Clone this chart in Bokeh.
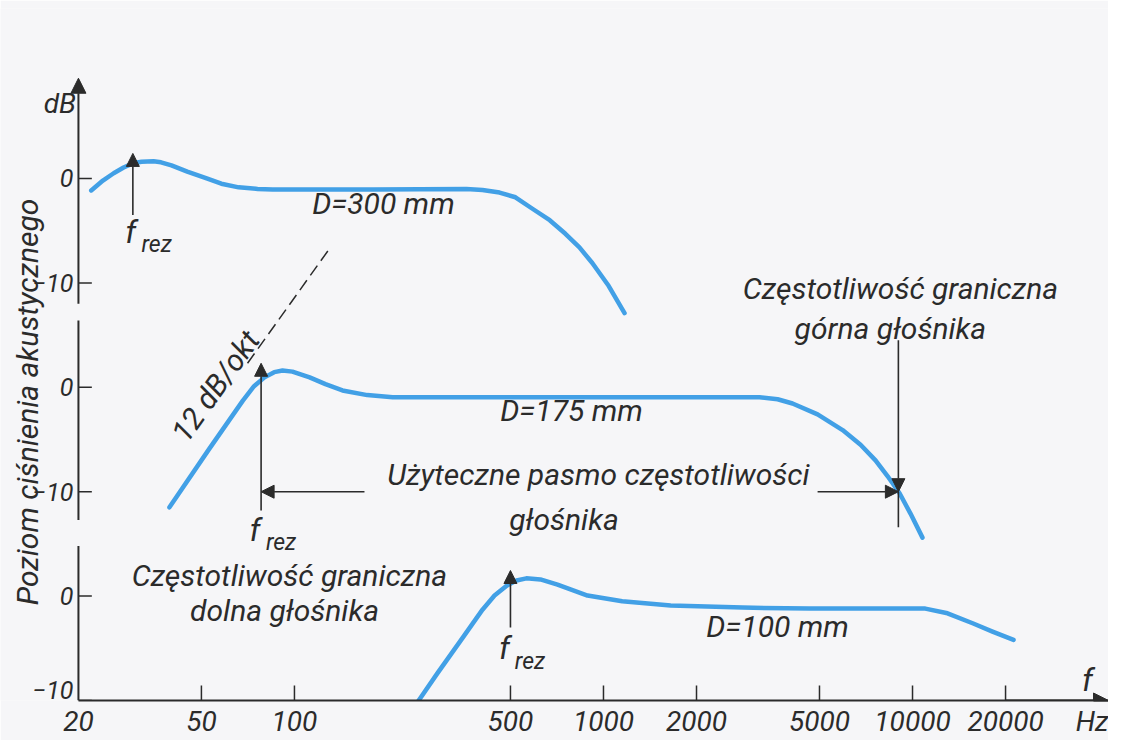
from math import pi
from bokeh.plotting import figure
from bokeh.models import Range1d, FixedTicker, Arrow, NormalHead, Label, NumeralTickFormatter
from bokeh.core.properties import value
from bokeh.embed import file_html
from bokeh.resources import INLINE

# ---------------- data ----------------
tick_freqs = [20, 50, 100, 500, 1000, 2000, 5000, 10000, 20000]
hz_pos = 40000                      # where the unit "Hz" sits on the frequency axis
y_ticks = [-10, 0, 10, 20, 30, 40]  # stacked panels: bottom, middle (+20), top (+40)
y_tick_labels = ["\u221210", "0", "\u221210", "0", "\u221210", "0"]

# D = 300 mm (top panel)
top_freq = [22, 24, 26, 28, 30, 32, 35, 37, 40, 45, 52, 58, 66, 76, 85, 180, 360, 406, 461,
            519, 589, 670, 753, 836, 920, 1040, 1170]
top_db = [-1.15, -0.2, 0.5, 1.05, 1.45, 1.6, 1.65, 1.55, 1.25, 0.65, 0.0, -0.5, -0.85, -1.0,
          -1.05, -1.05, -1.0, -1.1, -1.35, -1.8, -2.9, -4.0, -5.3, -6.6, -8.1, -10.3, -12.9]

# D = 175 mm (middle panel)
mid_freq = [39.4, 53, 68, 74, 80, 86, 91.5, 98.5, 112, 126, 143, 172, 208, 920, 3200, 3660,
            4090, 4930, 5940, 6790, 7590, 8300, 9080, 9850, 10770]
mid_db = [-11.5, -5.9, -1.3, 0.1, 0.95, 1.45, 1.6, 1.5, 0.95, 0.3, -0.3, -0.75, -0.95, -0.95,
          -0.95, -1.15, -1.55, -2.6, -4.1, -5.5, -7.0, -8.5, -10.15, -12.1, -14.4]

# D = 100 mm (bottom panel)
bot_freq = [238, 290, 350, 406, 444, 486, 523, 563, 625, 710, 888, 1150, 1650, 2820, 4640,
            11000, 12980, 15650, 18150, 21230]
bot_db = [-11.1, -7.4, -4.0, -1.3, 0.05, 1.0, 1.5, 1.7, 1.6, 1.1, 0.05, -0.5, -0.9, -1.1, -1.2,
          -1.2, -1.65, -2.6, -3.4, -4.2]

f_rez = [30, 78, 500]          # resonance frequencies: top, middle, bottom
f_upper = 9000                 # upper limit of the 175 mm speaker
band_level = -10               # dB level defining the useful band
slope_freq = [70.5, 130]       # 12 dB/okt asymptote (middle panel)
slope_db = [2.3, 13.3]

# ---------------- styling ----------------
INK = "#2b2b2b"
BLUE = "#42a0e6"
PAPER = "#f6f6f8"
FONT = "Roboto"
X_START, X_END = 11.19, 43070

p = figure(frame_width=1108, frame_height=692, x_axis_type="log",
           x_range=Range1d(X_START, X_END), y_range=Range1d(-10, 56.28),
           output_backend="svg", toolbar_location=None,
           min_border_left=0, min_border_right=0, min_border_top=8, min_border_bottom=40,
           background_fill_color=PAPER, border_fill_color=PAPER)
p.extra_y_ranges = {"mid": Range1d(-30, 36.28), "top": Range1d(-50, 16.28)}
p.outline_line_color = None
p.grid.visible = False
p.yaxis.visible = False

xa = p.xaxis[0]
xa.bounds = (20, X_END)
xa.ticker = FixedTicker(ticks=tick_freqs + [hz_pos])
xa.formatter = NumeralTickFormatter(format="0")
xa.major_label_overrides = {hz_pos: "Hz"}
xa.major_tick_line_color = None
xa.minor_tick_line_color = None
xa.major_tick_out = 0
xa.major_tick_in = 0
xa.minor_tick_out = 0
xa.minor_tick_in = 0
xa.axis_line_width = 2
xa.axis_line_color = INK
xa.major_label_text_font = FONT
xa.major_label_text_font_style = "italic"
xa.major_label_text_font_size = "28px"
xa.major_label_text_color = INK
xa.major_label_standoff = 4

# tick marks (drawn upwards from the axis line / rightwards from the dB axis)
n = len(tick_freqs) - 1
p.segment(x0=tick_freqs[1:], y0=[-10] * n, x1=tick_freqs[1:], y1=[-8.56] * n,
          line_color=INK, line_width=1.5)
p.segment(x0=[20] * len(y_ticks), y0=y_ticks, x1=[22.1] * len(y_ticks), y1=y_ticks,
          line_color=INK, line_width=1.5)
label_y = [max(t, -9.0) for t in y_ticks]   # lift the lowest label above the x axis
p.text(x=[19.27] * len(y_ticks), y=label_y, text=y_tick_labels, text_align="right",
       text_baseline="middle", text_font=value(FONT), text_font_style="italic",
       text_font_size="25px", text_color=INK)


def rng(name):
    return {} if name == "default" else {"y_range_name": name}


def arrow(x0, y0, x1, y1, name, head=True, width=1.6, size=13):
    end = NormalHead(size=size, fill_color=INK, line_color=INK, line_width=1) if head else None
    p.add_layout(Arrow(x_start=x0, y_start=y0, x_end=x1, y_end=y1, end=end,
                       line_color=INK, line_width=width, **rng(name)))


def label(text, x, y, name, size=30, angle=0.0, align="center"):
    p.add_layout(Label(x=x, y=y, text=text, text_font=FONT, text_font_style="italic",
                       text_font_size=f"{size}px", text_color=INK, text_align=align,
                       text_baseline="middle", angle=angle, **rng(name)))


# broken vertical axis (three segments) and axis arrows
arrow(20, -12.0, 20, 9.6, "top", head=True, width=2, size=15)
arrow(20, 6.4, 20, -12.7, "mid", head=False, width=2)
arrow(20, 4.8, 20, -10, "default", head=False, width=2)
arrow(20000, -10, X_END, -10, "default", head=True, width=2, size=15)

# curves
line_kw = dict(line_color=BLUE, line_width=4.5, line_join="round", line_cap="round")
p.line(top_freq, top_db, y_range_name="top", **line_kw)
p.line(mid_freq, mid_db, y_range_name="mid", **line_kw)
p.line(bot_freq, bot_db, **line_kw)

# 12 dB/okt asymptote
p.line(slope_freq, slope_db, y_range_name="mid", line_color=INK, line_width=1.5, line_dash="12 6")

# resonance arrows
arrow(f_rez[0], -3.5, f_rez[0], 2.4, "top")
arrow(f_rez[1], -11.8, f_rez[1], 2.3, "mid")
arrow(f_rez[2], -3.0, f_rez[2], 2.45, "default")

# useful band arrows
arrow(168.5, band_level, f_rez[1], band_level, "mid")
arrow(4930, band_level, f_upper, band_level, "mid")
arrow(f_upper, 4.5, f_upper, band_level, "mid")
arrow(f_upper, band_level, f_upper, -13.4, "mid", head=False)

# texts
label("dB", 17.4, 7.2, "top", size=28)
label("Poziom ciśnienia akustycznego", 13.7, 18.6, "default", size=30, angle=pi / 2)
label("f", 36800, -8.0, "default", size=32)

for fx, fy, rx, ry, name in [(29.5, -5.1, 35.8, -6.3, "top"),
                             (74.5, -13.7, 90.5, -14.85, "mid"),
                             (478, -5.0, 578, -6.3, "default")]:
    label("f", fx, fy, name, size=32)
    label("rez", rx, ry, name, size=23)

label("D=300 mm", 194, -2.4, "top")
label("D=175 mm", 788, -2.2, "mid")
label("D=100 mm", 3656, -2.9, "default")
label("12 dB/okt", 55.5, 0.1, "mid", angle=0.953)

label("Częstotliwość graniczna", 9145, 9.5, "mid")
label("górna głośnika", 8480, 5.65, "mid")
label("Użyteczne pasmo częstotliwości", 963, -8.4, "mid")
label("głośnika", 745, -12.7, "mid")
label("Częstotliwość graniczna", 96.3, 2.0, "default")
label("dolna głośnika", 92.9, -1.4, "default")

open("out.html", "w").write(file_html(p, INLINE))
